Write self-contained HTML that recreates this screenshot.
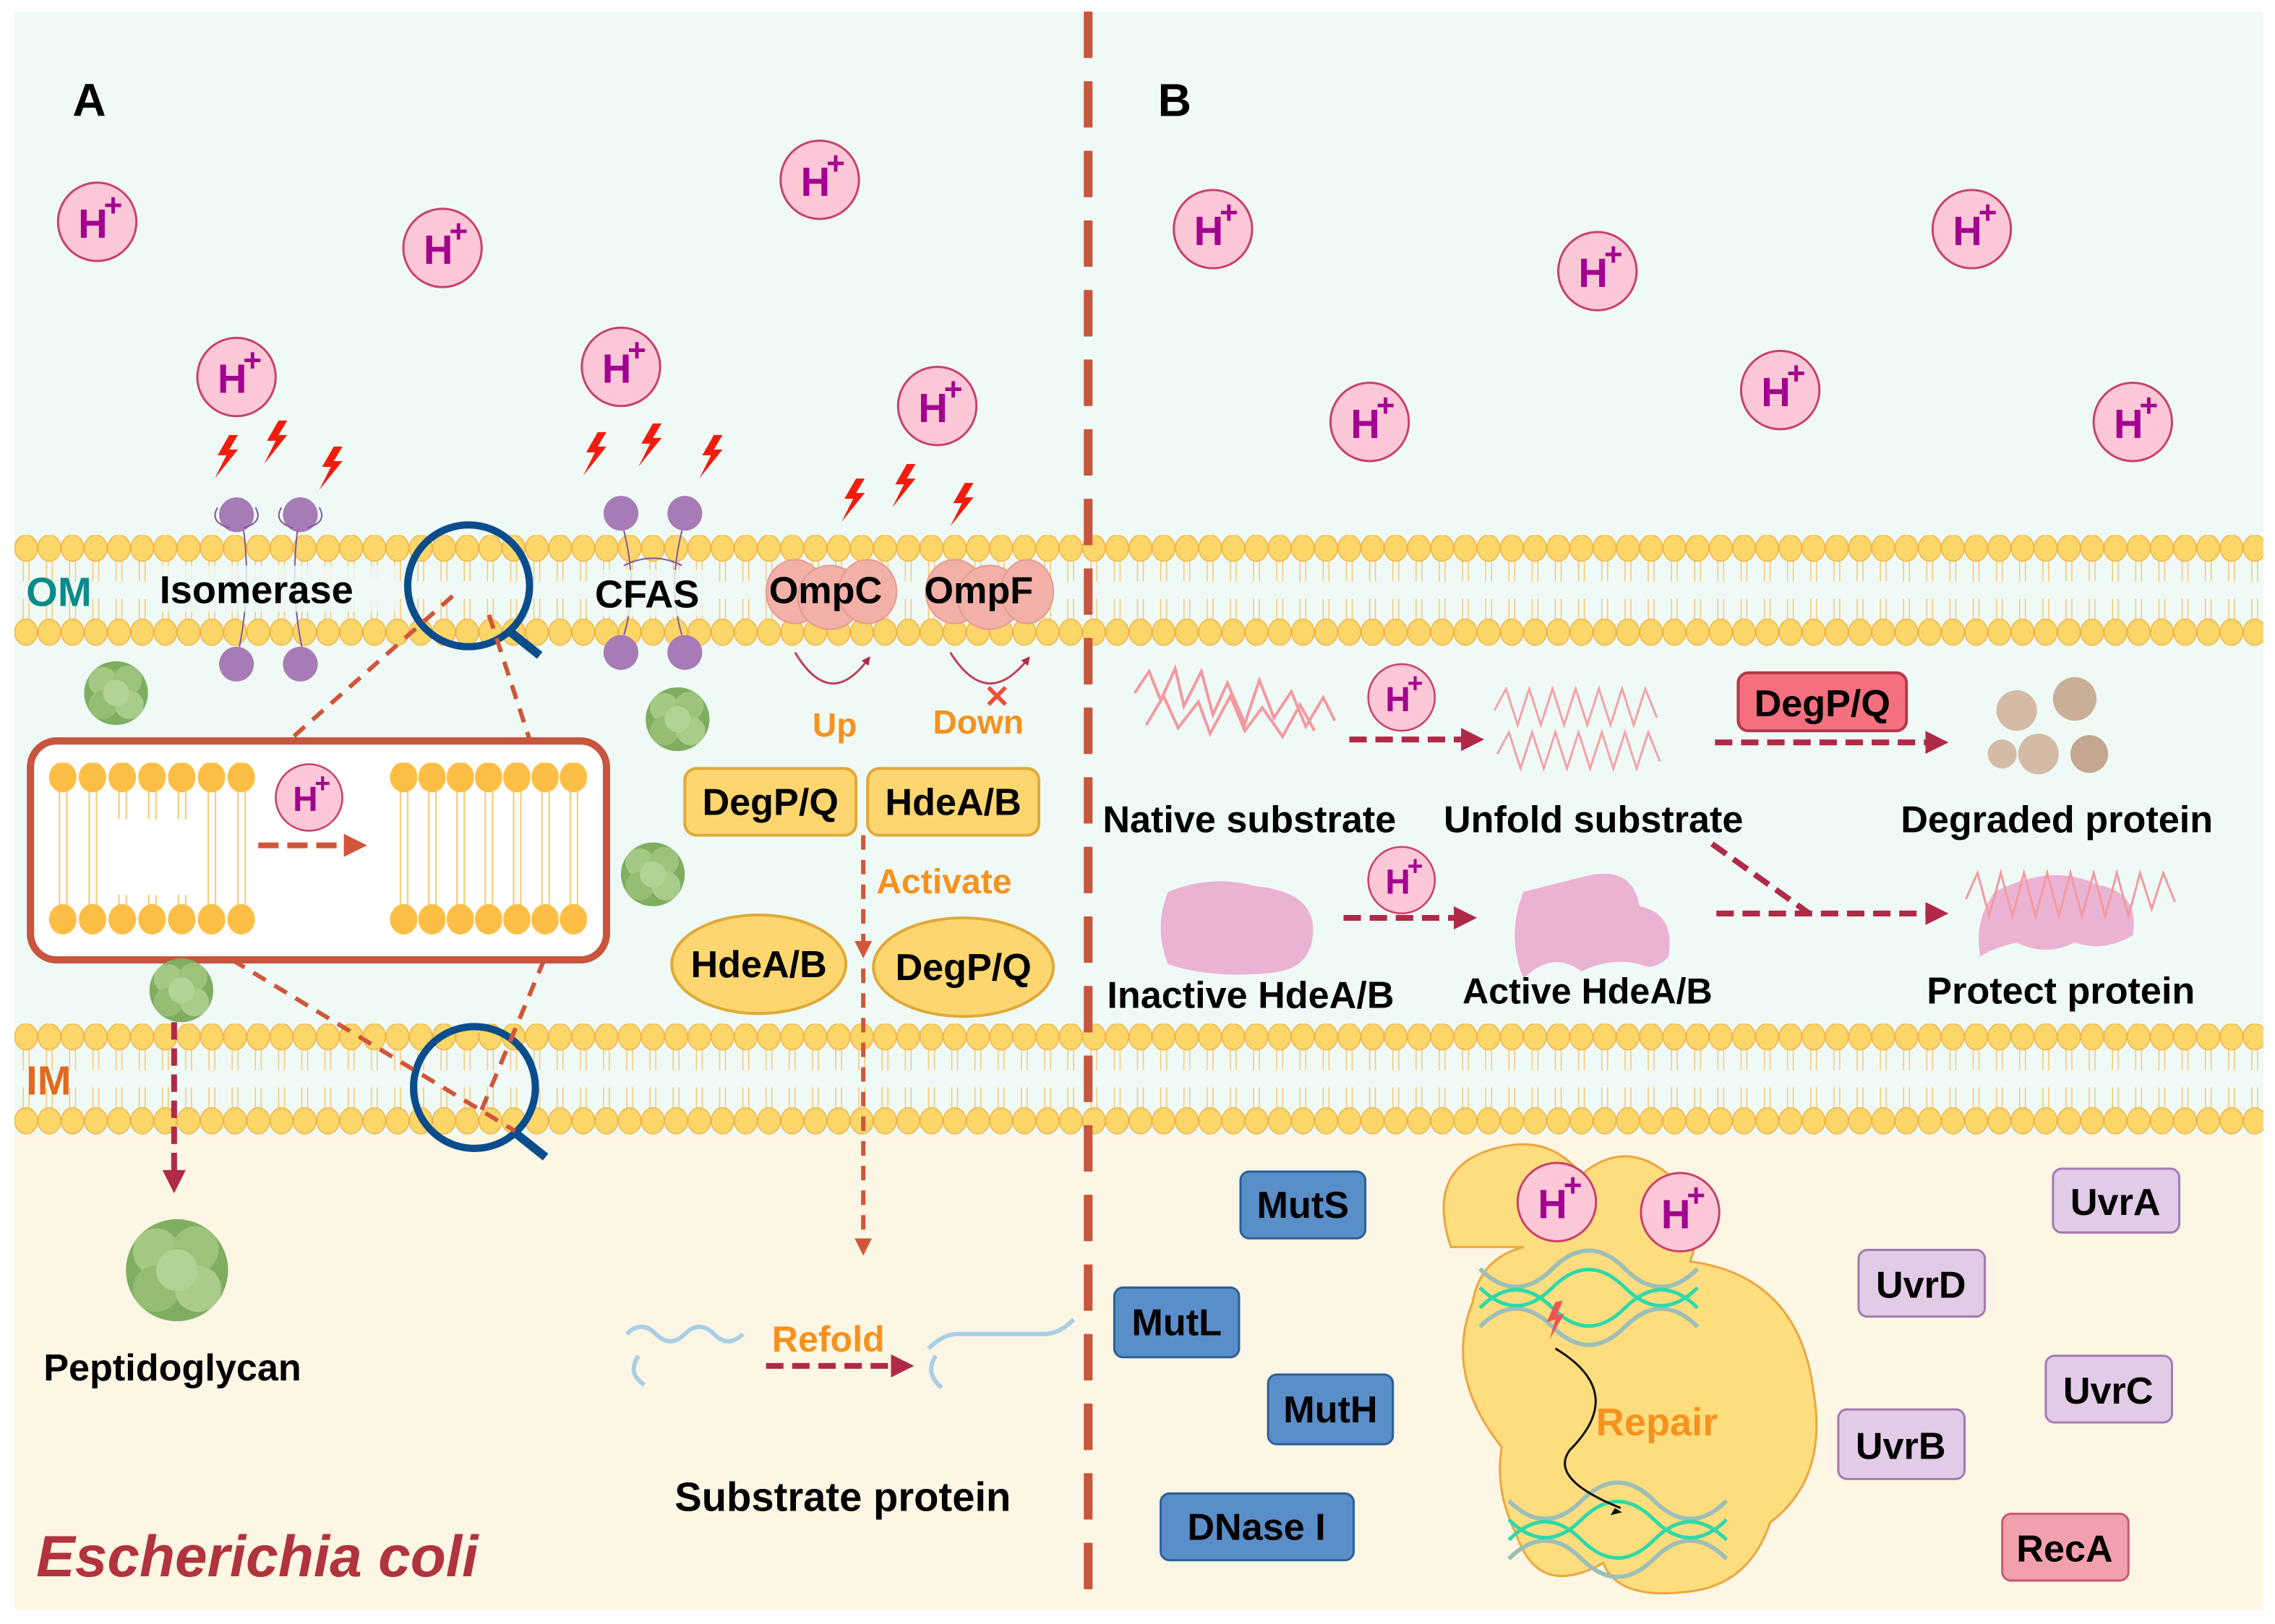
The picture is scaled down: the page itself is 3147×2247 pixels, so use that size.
<!DOCTYPE html>
<html><head><meta charset="utf-8"><style>html,body{margin:0;padding:0;background:#fff}svg{display:block}text{font-family:"Liberation Sans",sans-serif;font-weight:bold}</style></head>
<body>
<svg width="3147" height="2247" viewBox="0 0 1568 1120" preserveAspectRatio="none" xmlns="http://www.w3.org/2000/svg">
<defs>
<g id="bilc">
<line x1="6" y1="12" x2="6" y2="32" stroke="#f5c97a" stroke-width="0.8"/><line x1="10" y1="12" x2="10" y2="32" stroke="#f5c97a" stroke-width="0.8"/>
<line x1="6" y1="44" x2="6" y2="64" stroke="#f5c97a" stroke-width="0.8"/><line x1="10" y1="44" x2="10" y2="64" stroke="#f5c97a" stroke-width="0.8"/>
<ellipse cx="8" cy="9" rx="7.8" ry="9" fill="#fdd66a" stroke="#f0b548" stroke-width="0.8"/>
<ellipse cx="8" cy="67" rx="7.8" ry="9" fill="#fdd66a" stroke="#f0b548" stroke-width="0.8"/>
</g>
<pattern id="bilO" x="10" y="369" width="16" height="200" patternUnits="userSpaceOnUse"><use href="#bilc"/></pattern>
<pattern id="bilI" x="10" y="706" width="16" height="200" patternUnits="userSpaceOnUse"><use href="#bilc"/></pattern>
<g id="lipc"><line x1="8" y1="18" x2="8" y2="100" stroke="#f8c870" stroke-width="1"/><line x1="13" y1="18" x2="13" y2="100" stroke="#f8c870" stroke-width="1"/>
<ellipse cx="10.25" cy="10" rx="9.5" ry="10.5" fill="#fdbe45"/><ellipse cx="10.25" cy="108" rx="9.5" ry="10.5" fill="#fdbe45"/></g>
<pattern id="lipL" x="33" y="526" width="20.5" height="300" patternUnits="userSpaceOnUse"><use href="#lipc"/></pattern>
<pattern id="lipR" x="268" y="526" width="19.5" height="300" patternUnits="userSpaceOnUse"><use href="#lipc"/></pattern>
<g id="hp"><circle r="27" fill="#fcc7d6" stroke="#c8416a" stroke-width="1.5"/><text x="-3" y="11" text-anchor="middle" font-size="28" fill="#a3008f">H</text><text x="11" y="-4" text-anchor="middle" font-size="22" fill="#a3008f">+</text></g>
<g id="bolt"><path d="M0,0 L-8,14 L-2,14 L-10,30 L6,10 L0,10 L6,0 Z" fill="#f21c0c"/></g>
<g id="pg"><circle cx="0" cy="0" r="22" fill="#7fad61"/><circle cx="-9" cy="-8" r="10" fill="#a5c985"/><circle cx="8" cy="-9" r="10" fill="#9cc27c"/><circle cx="-9" cy="8" r="10" fill="#95bd74"/><circle cx="9" cy="8" r="10" fill="#a9cc8b"/><circle cx="0" cy="0" r="9" fill="#b2d396"/></g>
<marker id="ar" viewBox="0 0 10 10" refX="5" refY="5" markerWidth="4" markerHeight="4" orient="auto"><path d="M0,0 L10,5 L0,10 Z" fill="#b02a48"/></marker>
<marker id="ao" viewBox="0 0 10 10" refX="5" refY="5" markerWidth="4" markerHeight="4" orient="auto"><path d="M0,0 L10,5 L0,10 Z" fill="#d0563a"/></marker>
</defs>
<rect width="1568" height="1120" fill="#fff"/>
<rect x="10" y="8" width="1550" height="775" fill="#effaf6"/>
<rect x="10" y="783" width="1550" height="327" fill="#fdf6e4"/>
<rect x="10" y="369" width="1550" height="77" fill="url(#bilO)"/>
<rect x="10" y="706" width="1550" height="77" fill="url(#bilI)"/>
<line x1="750" y1="8" x2="750" y2="1110" stroke="#c8553d" stroke-width="6" stroke-dasharray="32,16"/>
<text x="50" y="80" font-size="32" fill="#000">A</text>
<text x="798" y="80" font-size="32" fill="#000">B</text>
<text x="18" y="418" font-size="28" fill="#0b8a8a">OM</text>
<text x="18" y="755" font-size="28" fill="#e06a1e">IM</text>
<use href="#hp" x="67" y="153"/><use href="#hp" x="305" y="171"/><use href="#hp" x="565" y="124"/>
<use href="#hp" x="163" y="260"/><use href="#hp" x="428" y="253"/><use href="#hp" x="646" y="280"/>
<use href="#hp" x="836" y="158"/><use href="#hp" x="1101" y="187"/><use href="#hp" x="1359" y="158"/>
<use href="#hp" x="944" y="291"/><use href="#hp" x="1227" y="269"/><use href="#hp" x="1470" y="291"/>
<use href="#bolt" x="158" y="300"/><use href="#bolt" x="192" y="290"/><use href="#bolt" x="230" y="308"/>
<use href="#bolt" x="412" y="298"/><use href="#bolt" x="450" y="292"/><use href="#bolt" x="492" y="300"/>
<use href="#bolt" x="590" y="330"/><use href="#bolt" x="625" y="320"/><use href="#bolt" x="665" y="333"/>
<g fill="#a77bb5"><circle cx="163" cy="355" r="12"/><circle cx="207" cy="355" r="12"/><circle cx="163" cy="458" r="12"/><circle cx="207" cy="458" r="12"/>
<circle cx="428" cy="354" r="12"/><circle cx="472" cy="354" r="12"/><circle cx="428" cy="450" r="12"/><circle cx="472" cy="450" r="12"/></g>
<g fill="none" stroke="#7b5a9a" stroke-width="1"><path d="M150,350 q-6,10 8,14 M176,350 q6,10 -8,14 M194,350 q-6,10 8,14 M220,350 q6,10 -8,14"/><path d="M168,366 q5,40 -3,80 M205,366 q-5,40 3,80 M430,366 q10,40 0,72 M470,366 q-10,40 0,72 M430,390 q20,-10 40,0"/></g>
<rect x="108" y="390" width="166" height="32" fill="#effaf6" opacity="0.8"/>
<text x="110" y="416" font-size="27" fill="#000">Isomerase</text>
<rect x="408" y="393" width="85" height="32" fill="#effaf6" opacity="0.8"/>
<text x="410" y="419" font-size="27" fill="#000">CFAS</text>
<g fill="#f2b0a8" stroke="#e49b90" stroke-width="1"><ellipse cx="548" cy="408" rx="20" ry="22"/><ellipse cx="572" cy="412" rx="22" ry="22"/><ellipse cx="598" cy="408" rx="20" ry="22"/>
<ellipse cx="658" cy="408" rx="20" ry="22"/><ellipse cx="682" cy="412" rx="22" ry="22"/><ellipse cx="708" cy="408" rx="18" ry="22"/></g>
<text x="530" y="416" font-size="26" fill="#000">OmpC</text>
<text x="637" y="416" font-size="26" fill="#000">OmpF</text>
<path d="M548,450 Q572,490 598,455" fill="none" stroke="#c0405a" stroke-width="1.5" marker-end="url(#ar)"/>
<path d="M655,450 Q680,490 708,455" fill="none" stroke="#c0405a" stroke-width="1.5" marker-end="url(#ar)"/>
<text x="678" y="488" font-size="22" fill="#f04e3a">✕</text>
<text x="560" y="508" font-size="23" fill="#f5921e">Up</text>
<text x="643" y="506" font-size="23" fill="#f5921e">Down</text>
<circle cx="323" cy="404" r="42" fill="none" stroke="#0b4d8c" stroke-width="5"/><line x1="352" y1="436" x2="372" y2="452" stroke="#0b4d8c" stroke-width="6"/>
<circle cx="327" cy="750" r="42" fill="none" stroke="#0b4d8c" stroke-width="5"/><line x1="356" y1="782" x2="376" y2="798" stroke="#0b4d8c" stroke-width="6"/>
<g stroke="#d0563a" stroke-width="3" stroke-dasharray="10,7" fill="none">
<line x1="312" y1="411" x2="200" y2="510"/><line x1="337" y1="424" x2="365" y2="510"/>
<line x1="160" y1="662" x2="355" y2="780"/><line x1="375" y1="662" x2="330" y2="770"/></g>
<rect x="21" y="511" width="397" height="151" rx="18" fill="#fff" stroke="#c8553d" stroke-width="5"/>
<rect x="33" y="526" width="144" height="120" fill="url(#lipL)"/>
<rect x="75" y="565" width="60" height="52" fill="#fff"/>
<rect x="268" y="526" width="137" height="120" fill="url(#lipR)"/>
<use href="#hp" x="213" y="550" transform="translate(213,550) scale(0.85) translate(-213,-550)"/>
<line x1="178" y1="583" x2="245" y2="583" stroke="#d0563a" stroke-width="4" stroke-dasharray="14,6" marker-end="url(#ao)"/>
<use href="#pg" x="80" y="478"/><use href="#pg" x="467" y="496"/><use href="#pg" x="450" y="603"/><use href="#pg" x="125" y="683"/>
<use href="#pg" x="122" y="876" transform="translate(122,876) scale(1.6) translate(-122,-876)"/>
<line x1="120" y1="705" x2="120" y2="815" stroke="#b02a48" stroke-width="4" stroke-dasharray="12,6" marker-end="url(#ar)"/>
<text x="30" y="952" font-size="26" fill="#000">Peptidoglycan</text>
<rect x="472" y="530" width="118" height="46" rx="8" fill="#fdd670" stroke="#e0a93a" stroke-width="2"/>
<text x="531" y="562" text-anchor="middle" font-size="26" fill="#000">DegP/Q</text>
<rect x="598" y="530" width="118" height="46" rx="8" fill="#fdd670" stroke="#e0a93a" stroke-width="2"/>
<text x="657" y="562" text-anchor="middle" font-size="26" fill="#000">HdeA/B</text>
<text x="604" y="616" font-size="24" fill="#f5921e">Activate</text>
<ellipse cx="523" cy="665" rx="60" ry="34" fill="#fdd670" stroke="#e0a93a" stroke-width="2"/>
<text x="523" y="674" text-anchor="middle" font-size="26" fill="#000">HdeA/B</text>
<ellipse cx="664" cy="667" rx="62" ry="34" fill="#fdd670" stroke="#e0a93a" stroke-width="2"/>
<text x="664" y="676" text-anchor="middle" font-size="26" fill="#000">DegP/Q</text>
<line x1="595" y1="576" x2="595" y2="655" stroke="#d0563a" stroke-width="3" stroke-dasharray="10,7" marker-end="url(#ao)"/>
<line x1="595" y1="668" x2="595" y2="860" stroke="#d0563a" stroke-width="3" stroke-dasharray="10,7" marker-end="url(#ao)"/>
<path d="M432,920 q10,-10 20,0 t20,0 t20,0 t20,0 M440,935 q-8,12 4,20 M640,930 q10,-10 20,-10 t20,0 t20,0 t20,0 t20,-10 M645,935 q-8,12 4,22" fill="none" stroke="#a9cfe6" stroke-width="3"/>
<text x="532" y="932" font-size="25" fill="#f5921e">Refold</text>
<line x1="528" y1="942" x2="622" y2="942" stroke="#b02a48" stroke-width="4" stroke-dasharray="12,6" marker-end="url(#ar)"/>
<text x="465" y="1042" font-size="28" fill="#000">Substrate protein</text>
<text x="25" y="1087" font-size="40" fill="#b0333e" font-style="italic">Escherichia coli</text>
<path d="M782,478 l10,-15 l8,20 l10,-22 l6,26 l12,-24 l8,30 l10,-22 l12,28 l10,-30 l10,26 l12,-18 l10,24 l12,-20 l8,16 M790,500 l12,-20 l10,22 l14,-18 l8,22 l14,-26 l10,24 l12,-16 l14,20 l12,-22 l10,18" fill="none" stroke="#f29aa0" stroke-width="2"/>
<use href="#hp" x="966" y="481" transform="translate(966,481) scale(0.85) translate(-966,-481)"/>
<line x1="930" y1="510" x2="1015" y2="510" stroke="#b02a48" stroke-width="4" stroke-dasharray="12,6" marker-end="url(#ar)"/>
<path d="M1030,490 l8,-15 l8,25 l8,-25 l8,25 l8,-25 l8,25 l8,-25 l8,25 l8,-25 l8,25 l8,-25 l8,25 l8,-25 l8,20 M1032,520 l8,-15 l8,25 l8,-25 l8,25 l8,-25 l8,25 l8,-25 l8,25 l8,-25 l8,25 l8,-25 l8,25 l8,-25 l8,20" fill="none" stroke="#f3a3a8" stroke-width="1.5"/>
<rect x="1198" y="464" width="116" height="40" rx="7" fill="#f4707e" stroke="#b33a4a" stroke-width="2"/>
<text x="1256" y="494" text-anchor="middle" font-size="26" fill="#000">DegP/Q</text>
<line x1="1182" y1="512" x2="1335" y2="512" stroke="#b02a48" stroke-width="4" stroke-dasharray="12,6" marker-end="url(#ar)"/>
<g fill="#d4bba6"><circle cx="1390" cy="490" r="14"/><circle cx="1430" cy="482" r="15" fill="#c9ae96"/><circle cx="1405" cy="520" r="14"/><circle cx="1440" cy="520" r="13" fill="#c4a790"/><circle cx="1380" cy="520" r="10"/></g>
<text x="760" y="574" font-size="26" fill="#000">Native substrate</text>
<text x="995" y="574" font-size="26" fill="#000">Unfold substrate</text>
<text x="1310" y="574" font-size="26" fill="#000">Degraded protein</text>
<path d="M805,615 q30,-12 60,-4 q40,4 40,30 q0,28 -30,30 q-40,4 -70,-6 q-10,-25 0,-50z" fill="#ebb3d3"/>
<use href="#hp" x="966" y="607" transform="translate(966,607) scale(0.85) translate(-966,-607)"/>
<line x1="926" y1="633" x2="1010" y2="633" stroke="#b02a48" stroke-width="4" stroke-dasharray="12,6" marker-end="url(#ar)"/>
<path d="M1050,615 q20,-5 40,-10 q35,-10 40,20 q25,5 20,35 q-10,10 -20,5 q-20,-5 -40,5 q-20,-15 -40,5 q-12,-30 0,-60z" fill="#ebb3d3"/>
<line x1="1180" y1="582" x2="1247" y2="630" stroke="#b02a48" stroke-width="4" stroke-dasharray="12,6"/>
<line x1="1183" y1="630" x2="1335" y2="630" stroke="#b02a48" stroke-width="4" stroke-dasharray="12,6" marker-end="url(#ar)"/>
<path d="M1375,615 q40,-20 70,-5 q30,5 25,35 q-20,12 -40,5 q-20,10 -40,0 q-20,5 -25,10 q-5,-25 10,-45z" fill="#ebb3d3"/>
<path d="M1355,620 l8,-18 l8,30 l8,-30 l8,30 l8,-30 l8,30 l8,-30 l8,30 l8,-30 l8,30 l8,-30 l8,30 l8,-30 l8,30 l8,-30 l8,25 l8,-25 l8,20" fill="none" stroke="#f29aa0" stroke-width="1.5"/>
<text x="763" y="695" font-size="26" fill="#000">Inactive HdeA/B</text>
<text x="1008" y="692" font-size="25" fill="#000">Active HdeA/B</text>
<text x="1328" y="692" font-size="26" fill="#000">Protect protein</text>
<path d="M1000,860 q-20,-60 40,-70 q30,-5 50,20 q30,-25 60,0 q30,15 15,60 q75,10 85,90 q10,60 -30,90 q-15,45 -60,48 q-45,5 -55,-20 q-45,25 -60,-20 q-15,-30 -10,-60 q-40,-50 -20,-100 q5,-30 35,-38z" fill="#fedd7e" stroke="#eba640" stroke-width="1.5"/>
<use href="#hp" x="1073" y="829"/><use href="#hp" x="1158" y="836"/>
<path d="M1020,875 q25,25 50,0 t50,0 t50,0 M1020,915 q25,-25 50,0 t50,0 t50,0" fill="none" stroke="#9cbfb7" stroke-width="3"/>
<path d="M1020,888 q25,25 50,0 t50,0 t50,0 M1020,902 q25,-25 50,0 t50,0 t50,0" fill="none" stroke="#2fd8a8" stroke-width="2.5"/>
<path d="M1040,1035 q25,25 50,0 t50,0 t50,0 M1040,1075 q25,-25 50,0 t50,0 t50,0" fill="none" stroke="#9cbfb7" stroke-width="3"/>
<path d="M1040,1048 q25,25 50,0 t50,0 t50,0 M1040,1062 q25,-25 50,0 t50,0 t50,0" fill="none" stroke="#2fd8a8" stroke-width="2.5"/>
<path d="M1072,898 l-6,14 l6,-2 l-4,14 l10,-18 l-5,1 l4,-10z" fill="#ee5555"/>
<path d="M1072,930 q50,30 10,70 q-15,20 35,40" fill="none" stroke="#111" stroke-width="1.5"/>
<path d="M1113,1040 l5,3 l-8,2z" fill="#111"/>
<text x="1100" y="990" font-size="27" fill="#f5921e">Repair</text>
<g stroke="#2a5f9a" stroke-width="1.5" fill="#5a8ec8">
<rect x="855" y="808" width="86" height="46" rx="6"/><rect x="768" y="888" width="86" height="48" rx="6"/><rect x="874" y="948" width="86" height="48" rx="6"/><rect x="800" y="1030" width="133" height="46" rx="6"/></g>
<text x="898" y="840" text-anchor="middle" font-size="26" fill="#000">MutS</text>
<text x="811" y="921" text-anchor="middle" font-size="26" fill="#000">MutL</text>
<text x="917" y="981" text-anchor="middle" font-size="26" fill="#000">MutH</text>
<text x="866" y="1062" text-anchor="middle" font-size="26" fill="#000">DNase I</text>
<g stroke="#a27ab0" stroke-width="1.5" fill="#e2cbe6">
<rect x="1415" y="806" width="87" height="44" rx="6"/><rect x="1281" y="862" width="87" height="46" rx="6"/><rect x="1410" y="935" width="87" height="46" rx="6"/><rect x="1267" y="972" width="87" height="48" rx="6"/></g>
<rect x="1380" y="1044" width="87" height="46" rx="6" fill="#f3a0ae" stroke="#c85a70" stroke-width="1.5"/>
<text x="1458" y="838" text-anchor="middle" font-size="26" fill="#000">UvrA</text>
<text x="1324" y="895" text-anchor="middle" font-size="26" fill="#000">UvrD</text>
<text x="1453" y="968" text-anchor="middle" font-size="26" fill="#000">UvrC</text>
<text x="1310" y="1006" text-anchor="middle" font-size="26" fill="#000">UvrB</text>
<text x="1423" y="1077" text-anchor="middle" font-size="26" fill="#000">RecA</text>
</svg>
</body></html>
